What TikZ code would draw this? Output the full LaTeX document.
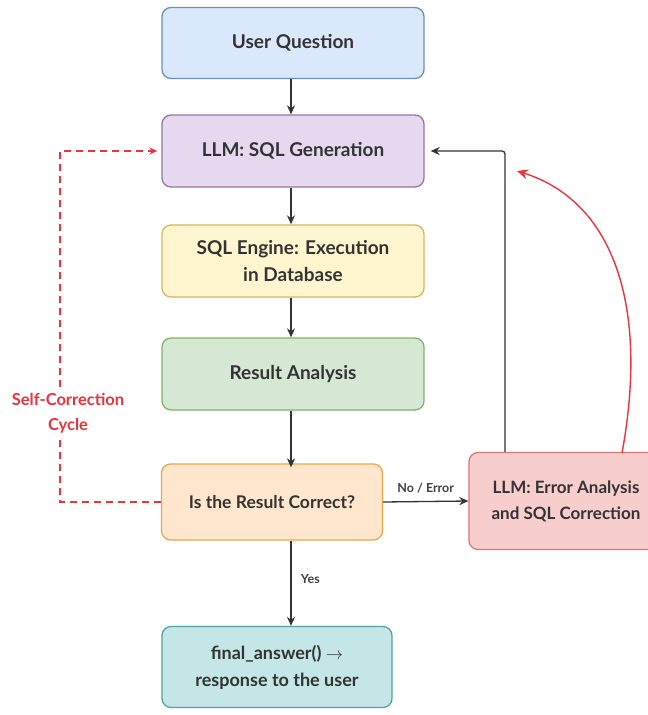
\documentclass[tikz,border=0pt]{standalone}
\usepackage{fontspec}
\setmainfont{Lato}
\usetikzlibrary{arrows.meta}
\definecolor{bluefill}{HTML}{DAE8FC}\definecolor{blueline}{HTML}{6C8EBF}
\definecolor{purpfill}{HTML}{E6D8EE}\definecolor{purpline}{HTML}{9673A6}
\definecolor{yelfill}{HTML}{FFF6CF}\definecolor{yelline}{HTML}{D6B656}
\definecolor{grnfill}{HTML}{D5E8D4}\definecolor{grnline}{HTML}{82B366}
\definecolor{orgfill}{HTML}{FFE6CC}\definecolor{orgline}{HTML}{E5A84B}
\definecolor{redfill}{HTML}{F8CECC}\definecolor{redline}{HTML}{D27A78}
\definecolor{tealfill}{HTML}{C4E6E6}\definecolor{tealline}{HTML}{4FA3A0}
\definecolor{cyclered}{HTML}{E8343C}

\begin{document}
\begin{tikzpicture}[x=1pt,y=-1pt,
  box/.style={rounded corners=9pt, line width=1.3pt, align=center,
    font=\fontsize{19}{27}\selectfont\bfseries, text=black!80},
  flow/.style={-{Stealth[length=9pt,width=8pt]}, line width=1.3pt, black!80},
  lbl/.style={font=\fontsize{12.5}{14}\selectfont\bfseries, text=black!75}]
\useasboundingbox (0,0) rectangle (648,715);
\node[box, draw=blueline, fill=bluefill, minimum width=262, minimum height=71] (question) at (293,43) {User Question};
\node[box, draw=purpline, fill=purpfill, minimum width=262, minimum height=72] (generate) at (293,151) {LLM: SQL Generation};
\node[box, draw=yelline, fill=yelfill, minimum width=262, minimum height=72] (execute) at (293,261) {SQL Engine: Execution\\in Database};
\node[box, draw=grnline, fill=grnfill, minimum width=262, minimum height=72] (analysis) at (293,374) {Result Analysis};
\node[box, draw=orgline, fill=orgfill, minimum width=221, minimum height=76, font=\fontsize{17.5}{26}\selectfont\bfseries] (check) at (272,502) {Is the Result Correct?};
\node[box, draw=redline, fill=redfill, minimum width=194, minimum height=97, font=\fontsize{17}{26}\selectfont\bfseries] (fix) at (566,501) {LLM: Error Analysis\\and SQL Correction};
\node[box, draw=tealline, fill=tealfill, minimum width=230, minimum height=81, font=\fontsize{18}{27}\selectfont\bfseries] (answer) at (277,667) {final\_answer() $\rightarrow$\\response to the user};
\coordinate (loopleft) at (60,502);
\coordinate (loopright) at (505,151);
% main line
\draw[flow] (question.south -| 291,0) -- (generate.north -| 291,0);
\draw[flow] (generate.south -| 291,0) -- (execute.north -| 291,0);
\draw[flow] (execute.south -| 291,0) -- (analysis.north -| 291,0);
\draw[flow] (analysis.south -| 291,0) -- ([yshift=-4]check.north -| 291,0);
\draw[flow] (check.south -| 291,0) -- node[lbl, right=6pt, pos=0.45] {Yes} (answer.north -| 291,0);
\draw[flow] (check.east) -- node[lbl, above=4pt] {No / Error} (fix.west);
% retry
\draw[flow, rounded corners=3pt] (fix.north -| loopright) -- (loopright) -- ([xshift=6]generate.east);
\draw[-{Stealth[length=11pt,width=10pt]}, line width=1.4pt, cyclered] (622,453) .. controls (650,300) and (610,200) .. (517,171);
% self-correction cycle
\draw[-{Stealth[length=8pt,width=7pt]}, line width=1.3pt, cyclered, dash pattern=on 7pt off 5pt] (check.west) -- (loopleft) -- (loopleft |- generate.west) -- ([xshift=-4]generate.west);
\node[font=\fontsize{16.5}{25}\selectfont\bfseries, text=cyclered, fill=white, align=center, inner sep=2pt] (cyclelabel) at (68,413) {Self-Correction\\Cycle};
\end{tikzpicture}
\end{document}
